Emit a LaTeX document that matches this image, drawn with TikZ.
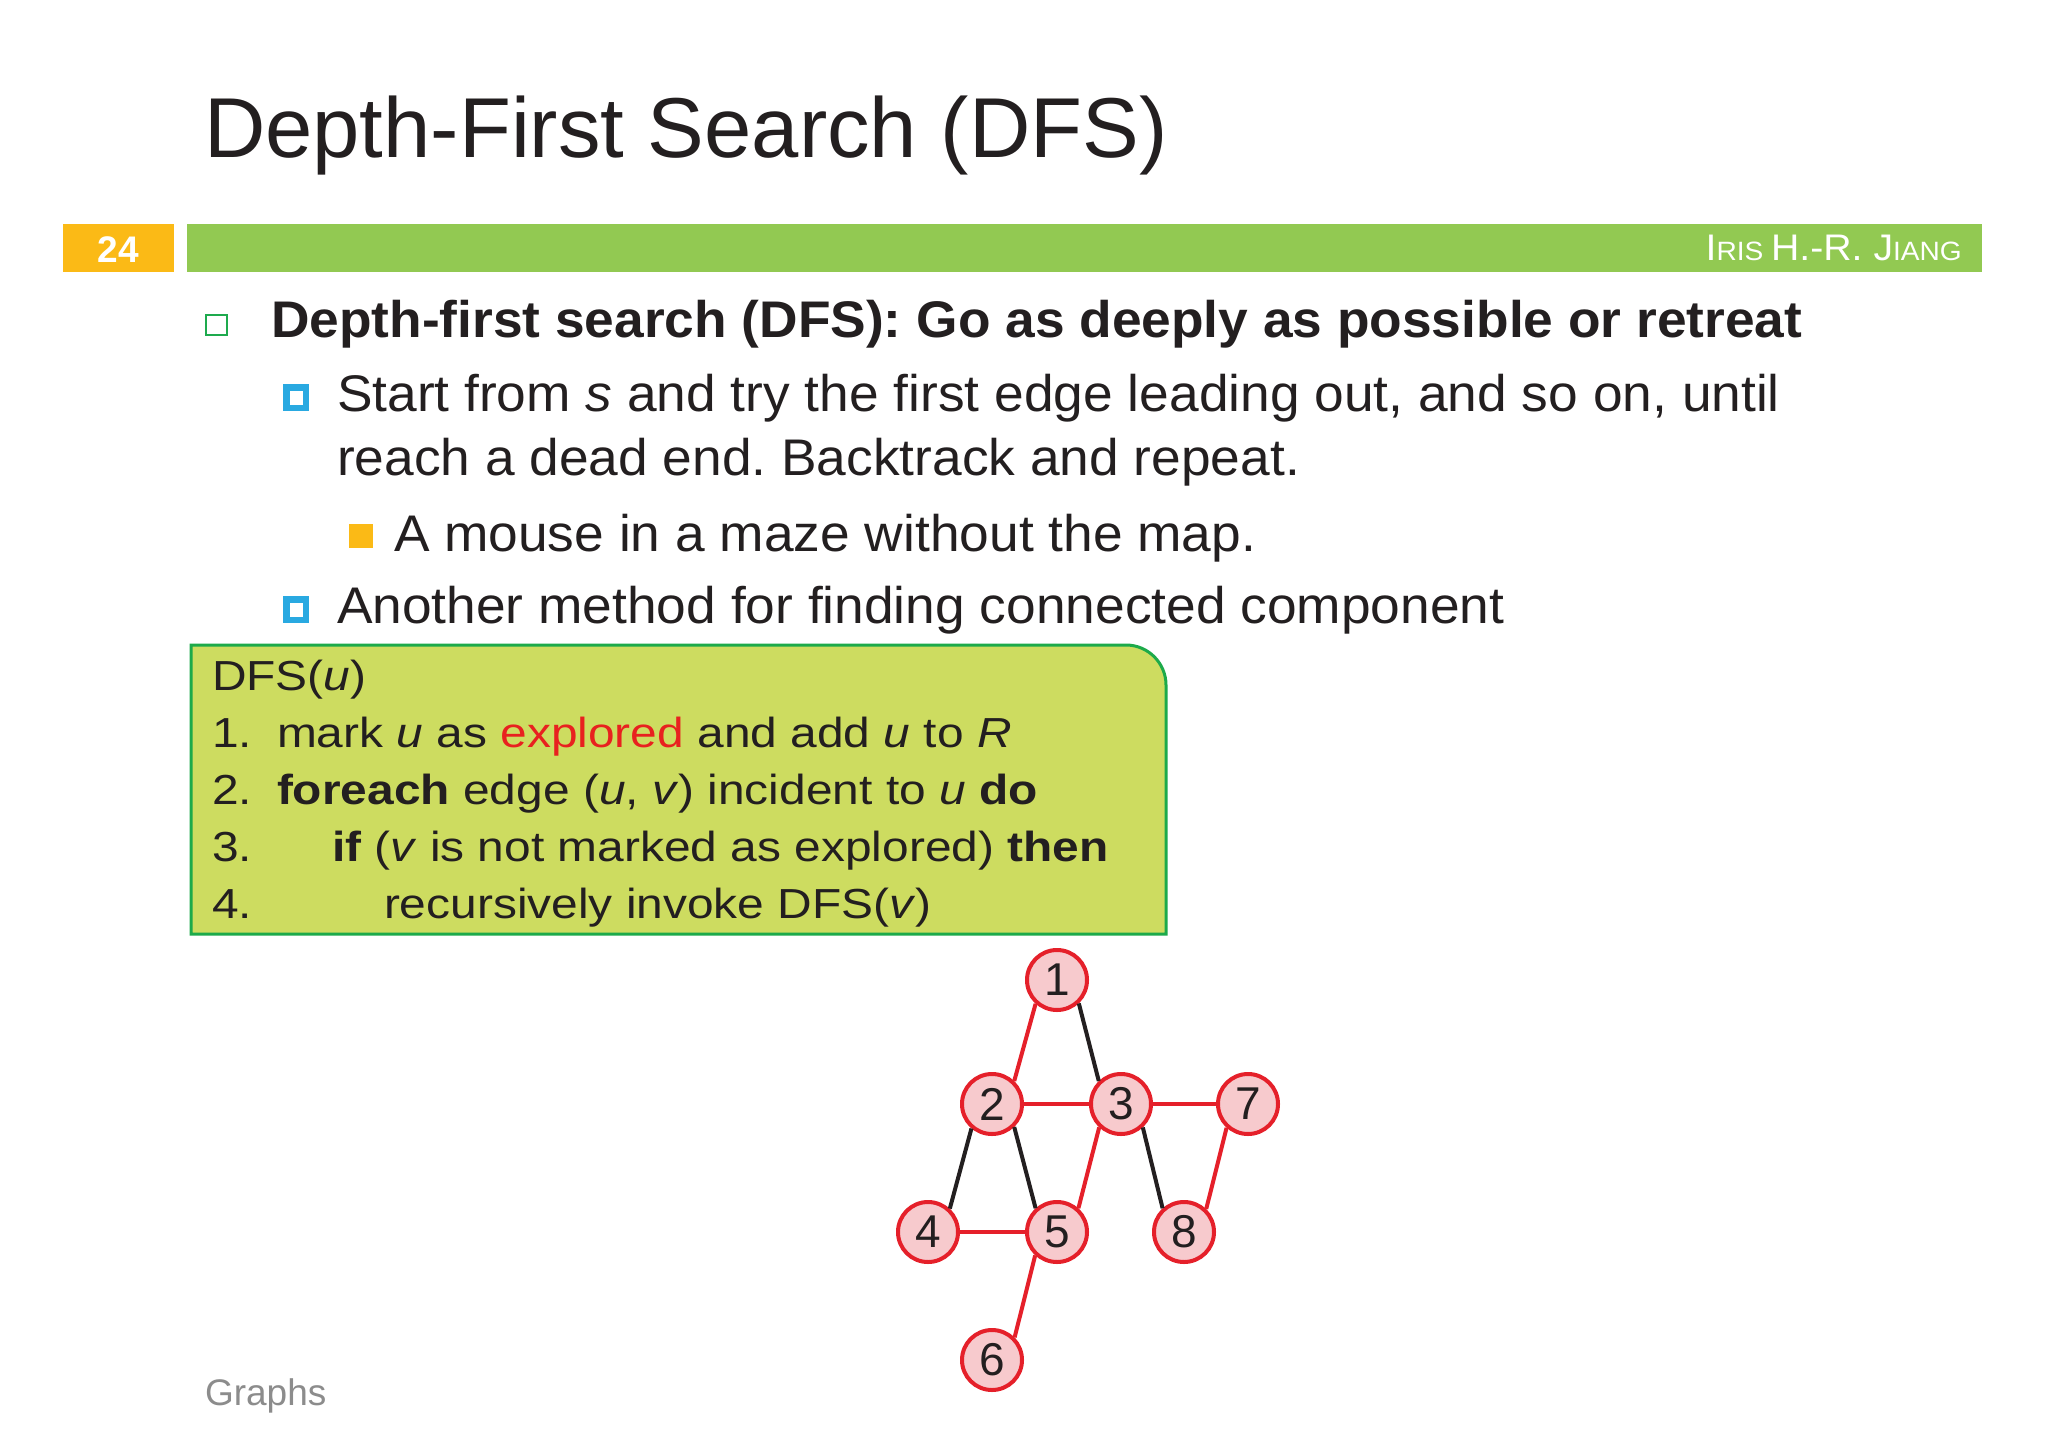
\documentclass[tikz,border=0pt]{standalone}
\usepackage{fontspec}
\setmainfont{Liberation Sans}
\newfontfamily\bodyfont[FakeStretch=1.035]{Liberation Sans}
\newfontfamily\codefont[FakeStretch=1.14]{Liberation Sans}
\newfontfamily\authfont[FakeStretch=1.06]{Liberation Sans}
\definecolor{gorange}{HTML}{FBBA16}
\definecolor{gbar}{HTML}{92C952}
\definecolor{bgreen}{HTML}{1EAA4E}
\definecolor{bblue}{HTML}{29A9E1}
\definecolor{boxfill}{HTML}{CDDC60}
\definecolor{boxborder}{HTML}{1DAA4A}
\definecolor{gred}{HTML}{E5202A}
\definecolor{gpink}{HTML}{F7CACD}
\definecolor{expred}{HTML}{E8211F}
\definecolor{tcol}{HTML}{231F20}
\definecolor{fgray}{HTML}{8C8C8C}
\frenchspacing
\begin{document}
\begin{tikzpicture}[x=1pt,y=-1pt,
  txt/.style={anchor=base west, inner sep=0, outer sep=0, text=tcol},
  bodytxt/.style={txt, font=\bodyfont\fontsize{51.5}{51.5}\selectfont},
  codetxt/.style={txt, font=\codefont\fontsize{42}{42}\selectfont},
  vtx/.style={circle, draw=gred, fill=gpink, line width=4pt, minimum size=60pt, inner sep=0, text=tcol, font=\fontsize{46}{46}\selectfont},
  redge/.style={draw=gred, line width=4pt},
  bedge/.style={draw=tcol, line width=4pt}]
\useasboundingbox (0,0) rectangle (2048,1456);
\fill[white] (0,0) rectangle (2048,1456);

% title
\node[txt, font=\fontsize{85}{85}\selectfont] (title) at (204,157) {Depth-First Search (DFS)};

% header bar
\fill[gorange] (63,224) rectangle (174,272);
\fill[gbar] (187,224) rectangle (1982,272);
\node[anchor=base, inner sep=0, text=white, font=\fontsize{37}{37}\selectfont\bfseries] (pgnum) at (118.5,262) {24};
\node[anchor=base east, inner sep=0, text=white, font=\authfont] (author) at (1962,260) {\fontsize{37}{37}\selectfont I\fontsize{26.5}{26.5}\selectfont RIS \fontsize{37}{37}\selectfont H.-R. J\fontsize{26.5}{26.5}\selectfont IANG};

% bullets
\draw[bgreen, line width=2.2pt] (206,315) rectangle (227,335);
\draw[bblue, line width=6.5pt] (286.25,387.25) rectangle (305.75,407.75);
\fill[gorange] (349,524) rectangle (373,548);
\draw[bblue, line width=6.5pt] (286.25,599.25) rectangle (305.75,619.75);

\node[bodytxt, font=\bodyfont\fontsize{51.5}{51.5}\selectfont\bfseries] (b1) at (271,337) {Depth-first search (DFS): Go as deeply as possible or retreat};
\node[bodytxt] (b2) at (337,411) {Start from \textit{s} and try the first edge leading out, and so on, until};
\node[bodytxt] (b2b) at (337,475) {reach a dead end. Backtrack and repeat.};
\node[bodytxt] (b3) at (394,551) {A mouse in a maze without the map.};
\node[bodytxt] (b4) at (337,623) {Another method for finding connected component};

% code box
\draw[boxborder, fill=boxfill, line width=3pt] (191,934) -- (191,645) -- (1126,645) .. controls (1148,645) and (1166,663) .. (1166,685) -- (1166,934) -- cycle;
\node[codetxt] (c0) at (212,690) {DFS(\textit{u})};
\node[codetxt] (n1) at (212,747) {1.};
\node[codetxt] (c1) at (277,747) {mark \textit{u} as \textcolor{expred}{explored} and add \textit{u} to \textit{R}};
\node[codetxt] (n2) at (212,804) {2.};
\node[codetxt] (c2) at (277,804) {\textbf{foreach} edge (\textit{u}, \textit{v}) incident to \textit{u} \textbf{do}};
\node[codetxt] (n3) at (212,861) {3.};
\node[codetxt] (c3) at (332,861) {\textbf{if} (\textit{v} is not marked as explored) \textbf{then}};
\node[codetxt] (n4) at (212,918) {4.};
\node[codetxt] (c4) at (384,918) {recursively invoke DFS(\textit{v})};

% graph
\node[vtx] (v1) at (1057,980) {1};
\node[vtx] (v2) at (992,1104) {2};
\node[vtx] (v3) at (1121,1104) {3};
\node[vtx] (v7) at (1248,1104) {7};
\node[vtx] (v4) at (928,1232) {4};
\node[vtx] (v5) at (1057,1232) {5};
\node[vtx] (v8) at (1184,1232) {8};
\node[vtx] (v6) at (992,1360) {6};

\draw[redge] (v1.-132) -- (v2.46);
\draw[bedge] (v1.-47) -- (v3.134);
\draw[redge] (v2) -- (v3);
\draw[redge] (v3) -- (v7);
\draw[bedge] (v2.-130) -- (v4.47);
\draw[bedge] (v2.-46) -- (v5.132);
\draw[redge] (v3.-133) -- (v5.48);
\draw[bedge] (v3.-47) -- (v8.132);
\draw[redge] (v7.-132) -- (v8.46);
\draw[redge] (v4) -- (v5);
\draw[redge] (v5.-133) -- (v6.45);

% footer
\node[txt, text=fgray, font=\fontsize{37}{37}\selectfont] (footer) at (205,1405) {Graphs};
\end{tikzpicture}
\end{document}
